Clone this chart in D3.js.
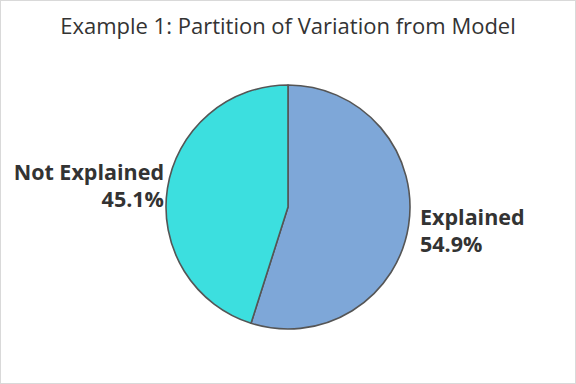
<!DOCTYPE html>
<html>
<head>
<meta charset="utf-8">
<script src="https://cdn.jsdelivr.net/npm/d3@7"></script>
<style>
  body { margin: 0; background: #fff; }
  text { font-family: "Open Sans", "Noto Sans", sans-serif; fill: #333; }
</style>
</head>
<body>
<div id="chart"></div>
<script>
// Slice data
const labels = ["Explained", "Not Explained"];
const values = [54.9, 45.1];
const colors = ["#7ea7d8", "#3cdfdf"];

const width = 576;
const height = 384;
const cx = 288, cy = 207, radius = 122;

const svg = d3.select("#chart")
    .append("svg")
    .attr("width", width)
    .attr("height", height);

// thin frame round the chart area
svg.append("rect")
    .attr("x", 0.5).attr("y", 0.5)
    .attr("width", width - 1).attr("height", height - 1)
    .attr("fill", "#fff")
    .attr("stroke", "#d9d9d9");

svg.append("text")
    .attr("x", width / 2)
    .attr("y", 34)
    .attr("text-anchor", "middle")
    .style("font-size", "22px")
    .text("Example 1: Partition of Variation from Model");

const slices = labels.map((label, i) => ({ label, value: values[i], color: colors[i] }));

const pie = d3.pie().value(d => d.value).sort(null);
const arc = d3.arc().innerRadius(0).outerRadius(radius);

const g = svg.append("g")
    .attr("transform", `translate(${cx},${cy})`);

g.selectAll("path")
    .data(pie(slices))
    .join("path")
    .attr("d", arc)
    .attr("fill", d => d.data.color)
    .attr("stroke", "#555")
    .attr("stroke-width", 1.6)
    .attr("stroke-linejoin", "round");

// labels placed beside the pie, on the slice side
const labelPos = [
    { x: 420, y: 225, anchor: "start" },
    { x: 164, y: 180, anchor: "end" }
];

slices.forEach((d, i) => {
    const p = labelPos[i];
    const t = svg.append("text")
        .attr("x", p.x)
        .attr("y", p.y)
        .attr("text-anchor", p.anchor)
        .style("font-size", "21.5px")
        .style("font-weight", "bold");
    t.append("tspan").attr("x", p.x).text(d.label);
    t.append("tspan").attr("x", p.x).attr("dy", 27).text(d3.format(".1f")(d.value) + "%");
});
</script>
</body>
</html>
